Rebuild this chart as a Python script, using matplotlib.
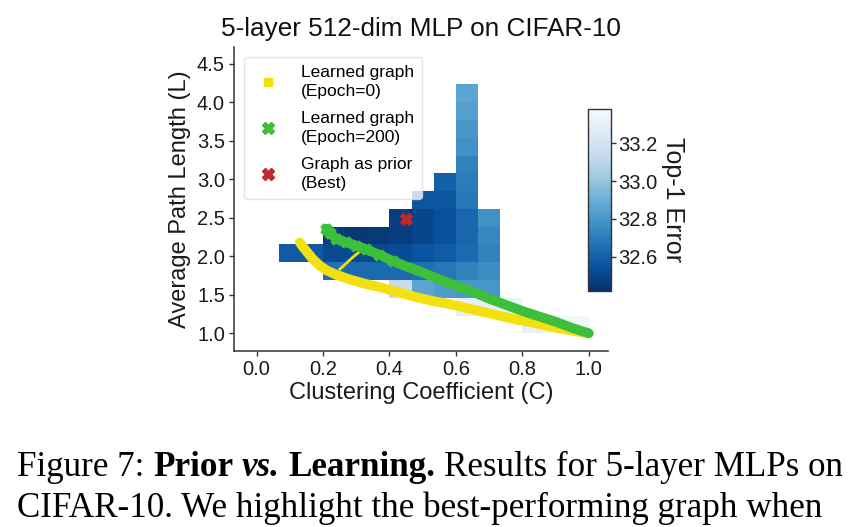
import numpy as np
import matplotlib
matplotlib.use("Agg")
import matplotlib.pyplot as plt
from matplotlib.lines import Line2D

plt.rcParams['font.family'] = ['Liberation Sans', 'DejaVu Sans']

# heatmap bins: clustering coefficient (x) and path length (y)
c_edges = np.linspace(0.0, 1.0, 16)
l_edges = np.linspace(1.0, 4.234, 15)

n = np.nan
# top-1 error, one row per L bin (bottom to top), one column per C bin
err_grid = np.array([
    [n, n, n, n, n, n, n, n, n, n, n, n, 33.30, 33.33, 33.34],
    [n, n, n, n, n, n, n, n, n, 33.30, 33.30, 33.32, n, n, n],
    [n, n, n, n, n, n, 33.15, 32.86, 32.82, 32.80, 32.80, n, n, n, n],
    [n, n, n, 32.66, 32.64, 32.63, 32.63, 32.66, 32.68, 32.72, 32.76, n, n, n, n],
    [n, 32.58, 32.58, 32.52, 32.52, 32.51, 32.52, 32.55, 32.58, 32.64, 32.72, n, n, n, n],
    [n, n, n, 32.47, 32.45, 32.46, 32.47, 32.50, 32.54, 32.62, 32.74, n, n, n, n],
    [n, n, n, n, n, n, 32.47, 32.50, 32.54, 32.62, 32.78, n, n, n, n],
    [n, n, n, n, n, n, n, 32.56, 32.56, 32.68, n, n, n, n, n],
    [n, n, n, n, n, n, n, n, 32.60, 32.70, n, n, n, n, n],
    [n, n, n, n, n, n, n, n, n, 32.72, n, n, n, n, n],
    [n, n, n, n, n, n, n, n, n, 32.78, n, n, n, n, n],
    [n, n, n, n, n, n, n, n, n, 32.80, n, n, n, n, n],
    [n, n, n, n, n, n, n, n, n, 32.84, n, n, n, n, n],
    [n, n, n, n, n, n, n, n, n, 32.86, n, n, n, n, n],
])

# learned graph trajectories
epoch0_c = [0.13, 0.14, 0.155, 0.17, 0.19, 0.21, 0.24, 0.28, 0.33, 0.38, 0.43, 0.48,
            0.53, 0.58, 0.63, 0.68, 0.73, 0.78, 0.83, 0.88, 0.93, 0.97, 1.00]
epoch0_l = [2.18, 2.12, 2.04, 1.96, 1.88, 1.82, 1.76, 1.70, 1.64, 1.59, 1.53, 1.47,
            1.42, 1.38, 1.33, 1.28, 1.23, 1.18, 1.14, 1.09, 1.05, 1.02, 1.00]
spur_c = [0.25, 0.27, 0.29, 0.31]
spur_l = [1.83, 1.91, 1.99, 2.06]

epoch200_c = [0.21, 0.22, 0.24, 0.27, 0.30, 0.33, 0.37, 0.41, 0.45, 0.50, 0.55, 0.60,
              0.65, 0.70, 0.75, 0.80, 0.85, 0.90, 0.95, 1.00]
epoch200_l = [2.36, 2.30, 2.23, 2.18, 2.14, 2.09, 2.02, 1.94, 1.87, 1.79, 1.70, 1.62,
              1.54, 1.45, 1.37, 1.29, 1.22, 1.15, 1.07, 1.00]

best_c = [0.45]
best_l = [2.49]

yellow = '#f2e10f'
green = '#3dbf3a'
red = '#c0282d'
dark = '#333333'

W, H = 855, 527
fig = plt.figure(figsize=(W / 100, H / 100), dpi=100)
ax = fig.add_axes([234 / W, 1 - 351 / H, 374 / W, 304 / H])

mesh = ax.pcolormesh(c_edges, l_edges, np.ma.masked_invalid(err_grid),
                     cmap='Blues_r', vmin=32.42, vmax=33.38, zorder=1)

ax.plot(spur_c, spur_l, color=yellow, lw=2, zorder=3)
ax.plot(epoch0_c, epoch0_l, color=yellow, lw=7, solid_capstyle='round',
        solid_joinstyle='round', zorder=3)
ax.plot(epoch200_c, epoch200_l, color=green, lw=7, solid_capstyle='round',
        solid_joinstyle='round', zorder=4)
ax.scatter(epoch200_c[:8], epoch200_l[:8], marker='X', s=60, color=green, zorder=4)
ax.scatter(best_c, best_l, marker='X', s=70, color=red, zorder=5)

ax.set_xlim(-0.068, 1.058)
ax.set_ylim(0.77, 4.72)
ax.set_xticks([0.0, 0.2, 0.4, 0.6, 0.8, 1.0])
ax.set_yticks([1.0, 1.5, 2.0, 2.5, 3.0, 3.5, 4.0, 4.5])
for s in ['top', 'right']:
    ax.spines[s].set_visible(False)
for s in ['left', 'bottom']:
    ax.spines[s].set_color(dark)
    ax.spines[s].set_linewidth(1.1)
ax.tick_params(direction='out', length=3.5, width=1, color=dark,
               labelsize=14.5, labelcolor='#1a1a1a', pad=3)
ax.set_xlabel('Clustering Coefficient (C)', fontsize=17, color='#1a1a1a', labelpad=2.5)
ax.set_ylabel('Average Path Length (L)', fontsize=17, color='#1a1a1a', labelpad=4)
ax.set_title('5-layer 512-dim MLP on CIFAR-10', fontsize=18.8, color='#111111', pad=8)

handles = [
    Line2D([], [], ls='none', marker='s', ms=6, color=yellow),
    Line2D([], [], ls='none', marker='X', ms=8, color=green),
    Line2D([], [], ls='none', marker='X', ms=9, color=red),
]
labels = ['Learned graph\n(Epoch=0)', 'Learned graph\n(Epoch=200)', 'Graph as prior\n(Best)']
leg = ax.legend(handles, labels, loc='upper left', fontsize=12.5, frameon=True,
                framealpha=0.8, edgecolor='#dddddd', handlelength=1.8,
                handletextpad=1.0, labelspacing=0.68, borderaxespad=0.6,
                borderpad=0.45)
for t in leg.get_texts():
    t.set_linespacing(1.35)
leg.set_zorder(6)

cax = fig.add_axes([588 / W, 1 - 291 / H, 23 / W, 182 / H])
cb = fig.colorbar(mesh, cax=cax, ticks=[32.6, 32.8, 33.0, 33.2])
cb.outline.set_edgecolor(dark)
cb.outline.set_linewidth(1)
cax.tick_params(length=3.5, width=1, color=dark, labelsize=14.5,
                labelcolor='#1a1a1a', pad=1.5)
cb.set_label('Top-1 Error', rotation=270, fontsize=18, color='#1a1a1a', labelpad=20)

# caption below the chart, mixed weights
serif = 'Liberation Serif'
line1 = [('Figure 7:', 'normal', 'normal'), ('Prior', 'bold', 'normal'),
         ('vs.', 'bold', 'italic'), ('Learning.', 'bold', 'normal'),
         ('Results for 5-layer MLPs on', 'normal', 'normal')]
line2 = [('CIFAR-10. We highlight the best-performing graph when', 'normal', 'normal')]

renderer = fig.canvas.get_renderer()


def text_width(s, size, weight='normal', style='normal'):
    t = fig.text(0, 0, s, fontsize=size, family=serif, weight=weight, style=style)
    w = t.get_window_extent(renderer).width
    t.remove()
    return w


def draw_line(pieces, x0, y_base, size):
    gap = text_width('x x', size) - text_width('xx', size)
    x = x0
    for s, weight, style in pieces:
        t = fig.text(x / W, 1 - y_base / H, s, fontsize=size, family=serif,
                     weight=weight, style=style, va='baseline', color='black')
        x += t.get_window_extent(renderer).width + gap


base = 25
gap0 = text_width('x x', base) - text_width('xx', base)
w1 = sum(text_width(s, base, wt, st) for s, wt, st in line1) + gap0 * (len(line1) - 1)
size = base * 826 / w1
draw_line(line1, 17, 476, size)
draw_line(line2, 17, 517, size)

fig.savefig('out.png', dpi=100)
